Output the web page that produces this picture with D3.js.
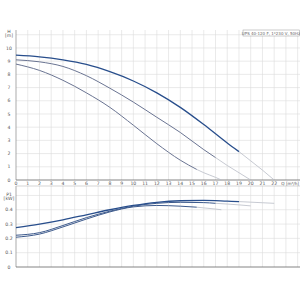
<!DOCTYPE html>
<html>
<head>
<meta charset="utf-8">
<script src="https://cdn.jsdelivr.net/npm/d3@7"></script>
<style>
  body { margin: 0; background: #fff; }
  svg { display: block; font-family: "DejaVu Sans", sans-serif; }
</style>
</head>
<body>
<script>
// pump curves: flow Q [m3/h], head H [m], power P1 [kW]
const qTicks = d3.range(0, 23);
const hTicks = d3.range(0, 11);
const pTicks = [0, 0.1, 0.2, 0.3, 0.4];

// head curves (speed 3, 2, 1); solid part then thin extension
const hSpeed3 = [[0, 9.45], [2, 9.33], [4, 9.1], [6, 8.75], [8, 8.2], [10, 7.5], [12, 6.6], [14, 5.5], [16, 4.2], [18, 2.8], [19, 2.15]];
const hSpeed3Ext = [[19, 2.15], [20, 1.45], [21, 0.75], [22, 0]];
const hSpeed2 = [[0, 9.1], [2, 8.95], [4, 8.6], [6, 7.9], [8, 6.95], [10, 5.9], [12, 4.75], [14, 3.6], [16, 2.3], [17, 1.7]];
const hSpeed2Ext = [[17, 1.7], [18, 1.1], [19, 0.55], [20, 0]];
const hSpeed1 = [[0, 8.78], [2, 8.3], [4, 7.55], [6, 6.6], [8, 5.5], [10, 4.15], [12, 2.75], [14, 1.5], [15.4, 0.8]];
const hSpeed1Ext = [[15.4, 0.8], [16, 0.55], [17, 0.2], [17.5, 0]];

// power curves
const pSpeed3 = [[0, 0.275], [2, 0.3], [4, 0.33], [6, 0.365], [8, 0.4], [10, 0.43], [12, 0.452], [14, 0.463], [16, 0.465], [18, 0.46], [19, 0.457]];
const pSpeed3Ext = [[19, 0.457], [20, 0.453], [21, 0.449], [22, 0.445]];
const pSpeed2 = [[0, 0.222], [2, 0.24], [4, 0.29], [6, 0.345], [8, 0.39], [10, 0.425], [12, 0.445], [14, 0.452], [16, 0.45], [17, 0.445]];
const pSpeed2Ext = [[17, 0.445], [18, 0.44], [19, 0.434], [20, 0.427]];
const pSpeed1 = [[0, 0.208], [2, 0.23], [4, 0.28], [6, 0.335], [8, 0.385], [10, 0.42], [12, 0.43], [14, 0.425], [15.4, 0.418]];
const pSpeed1Ext = [[15.4, 0.418], [16, 0.413], [17, 0.405], [17.5, 0.4]];

const title = "UPS 40-120 F, 1*230 V, 50Hz";

const width = 300, height = 300;
const svg = d3.select("body").append("svg")
  .attr("width", width).attr("height", height);

const x = d3.scaleLinear().domain([0, 24.2]).range([16, 300]);
const yH = d3.scaleLinear().domain([0, 11.36]).range([180, 30]);
const yP = d3.scaleLinear().domain([0, 0.566]).range([267, 186]);

const gridCol = "#dcdcdc";
const txtCol = "#555";
const fs = 4.6;

// grids
function grid(y, yTicks, top, bottom) {
  const g = svg.append("g");
  g.selectAll(".v").data(d3.range(1, 25)).enter().append("line")
    .attr("x1", d => x(d)).attr("x2", d => x(d))
    .attr("y1", top).attr("y2", bottom)
    .attr("stroke", gridCol).attr("stroke-width", 0.6);
  g.selectAll(".h").data(yTicks).enter().append("line")
    .attr("x1", x(0)).attr("x2", 300)
    .attr("y1", d => y(d)).attr("y2", d => y(d))
    .attr("stroke", gridCol).attr("stroke-width", 0.6);
  g.append("line").attr("x1", x(0)).attr("x2", x(0))
    .attr("y1", top).attr("y2", bottom)
    .attr("stroke", "#888").attr("stroke-width", 0.7);
  g.append("line").attr("x1", x(0)).attr("x2", 300)
    .attr("y1", bottom).attr("y2", bottom)
    .attr("stroke", "#666").attr("stroke-width", 0.8);
}
grid(yH, d3.range(1, 12), 30, 180);
grid(yP, [0.1, 0.2, 0.3, 0.4, 0.5], 186, 267);
svg.append("line").attr("x1", x(0)).attr("x2", 300)
  .attr("y1", 186).attr("y2", 186)
  .attr("stroke", "#bbb").attr("stroke-width", 0.6);

// tick labels
svg.append("g").selectAll("text").data(hTicks).enter().append("text")
  .attr("x", 9).attr("y", d => yH(d) + 1.6)
  .attr("text-anchor", "middle").attr("font-size", fs).attr("fill", txtCol)
  .text(d => d);
svg.append("text").attr("x", 9).attr("y", 33).attr("text-anchor", "middle")
  .attr("font-size", fs).attr("fill", txtCol).text("H");
svg.append("text").attr("x", 9).attr("y", 37).attr("text-anchor", "middle")
  .attr("font-size", fs).attr("fill", txtCol).text("[m]");

svg.append("g").selectAll("text").data(pTicks).enter().append("text")
  .attr("x", 9).attr("y", d => yP(d) + 1.6)
  .attr("text-anchor", "middle").attr("font-size", fs).attr("fill", txtCol)
  .text(d => d === 0 ? "0" : d3.format(".1f")(d));
svg.append("text").attr("x", 9).attr("y", 195.5).attr("text-anchor", "middle")
  .attr("font-size", fs).attr("fill", txtCol).text("P1");
svg.append("text").attr("x", 9).attr("y", 199.5).attr("text-anchor", "middle")
  .attr("font-size", fs).attr("fill", txtCol).text("[kW]");

svg.append("g").selectAll("text").data(qTicks).enter().append("text")
  .attr("x", d => x(d)).attr("y", 184.6)
  .attr("text-anchor", "middle").attr("font-size", fs).attr("fill", txtCol)
  .text(d => d);
svg.append("text").attr("x", 299).attr("y", 184.6)
  .attr("text-anchor", "end").attr("font-size", 4.2).attr("fill", txtCol)
  .text("Q [m³/h]");

// legend box
svg.append("rect").attr("x", 243).attr("y", 30).attr("width", 56.5).attr("height", 6)
  .attr("fill", "#fff").attr("stroke", "#999").attr("stroke-width", 0.5);
svg.append("text").attr("x", 271).attr("y", 34.5).attr("text-anchor", "middle")
  .attr("font-size", 4).attr("fill", "#666").text(title);

// curves
const lineH = d3.line().x(d => x(d[0])).y(d => yH(d[1])).curve(d3.curveMonotoneX);
const lineP = d3.line().x(d => x(d[0])).y(d => yP(d[1])).curve(d3.curveMonotoneX);

function draw(line, data, col, w) {
  svg.append("path").datum(data).attr("d", line)
    .attr("fill", "none").attr("stroke", col).attr("stroke-width", w);
}
const extCol = "#b9bcc6";
[hSpeed3Ext, hSpeed2Ext, hSpeed1Ext].forEach(d => draw(lineH, d, extCol, 0.8));
draw(lineH, hSpeed1, "#6a7492", 1);
draw(lineH, hSpeed2, "#6a7492", 1);
draw(lineH, hSpeed3, "#284e8c", 1.3);

[pSpeed3Ext, pSpeed2Ext, pSpeed1Ext].forEach(d => draw(lineP, d, extCol, 0.8));
draw(lineP, pSpeed1, "#3d5a8c", 1);
draw(lineP, pSpeed2, "#3d5a8c", 1);
draw(lineP, pSpeed3, "#284e8c", 1.3);
</script>
</body>
</html>
